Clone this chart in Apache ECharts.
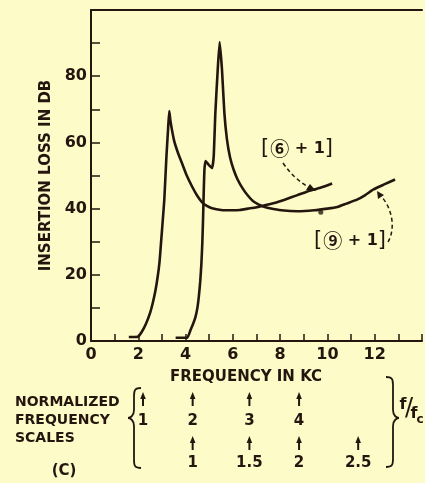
<!DOCTYPE html>
<html>
<head>
<meta charset="utf-8">
<script src="https://cdn.jsdelivr.net/npm/echarts@6/dist/echarts.min.js"></script>
<style>
html,body{margin:0;padding:0;background:#fdfbc8;}
#c{width:425px;height:483px;}
</style>
</head>
<body>
<div id="c"></div>
<script>
// ---- data ----
const curve6plus1 = [[1.6,1.2],[1.98,1.3],[2.15,2.8],[2.33,5.3],[2.5,8.5],[2.61,11.4],[2.72,15],[2.82,19.4],[2.9,24],[2.96,29.5],[3.03,36],[3.10,42.6],[3.19,55.7],[3.26,64],[3.31,69.5],[3.36,66.5],[3.51,60.7],[3.68,56.8],[3.86,53.5],[4.05,50],[4.28,46.6],[4.5,43.8],[4.70,41.9],[4.9,40.8],[5.12,40.1],[5.5,39.6],[5.95,39.5],[6.3,39.6],[6.65,40.0],[7.0,40.4],[7.35,41.0],[7.8,41.8],[8.19,42.7],[8.7,44],[9.16,45.2],[9.7,46.3],[10.2,47.6]];
const curve9plus1 = [[3.58,1.0],[4.07,1.0],[4.21,3.3],[4.32,5.2],[4.42,7.3],[4.5,10],[4.56,13.4],[4.62,18],[4.67,23.5],[4.71,30],[4.74,37],[4.77,45.6],[4.8,52],[4.85,54.4],[4.98,53.2],[5.12,52.3],[5.19,55.8],[5.26,69],[5.36,82],[5.44,90.3],[5.54,82],[5.64,69],[5.75,60.9],[5.88,55.5],[6.03,51.8],[6.2,48.8],[6.44,45.8],[6.65,43.8],[6.86,42.2],[7.1,41.2],[7.35,40.5],[7.56,40.1],[8.05,39.5],[8.74,39.2],[9.44,39.5],[10.0,40],[10.42,40.5],[10.8,41.5],[11.25,42.7],[11.6,44.1],[11.95,45.8],[12.4,47.3],[12.86,48.8]];
const strayDot = [[9.72,38.9]];
const xTickLabels = [0,2,4,6,8,10,12];
const yTickLabels = [0,20,40,60,80];
const row1Pos = [2.2,4.3,6.7,8.8];
const row1Labels = ['1','2','3','4'];
const row2Pos = [4.3,6.7,8.8,11.3];
const row2Labels = ['1','1.5','2','2.5'];

const INK = '#24160f';
const FONT = 'DejaVu Sans';
const CJK = 'Noto Sans CJK SC';

const chart = echarts.init(document.getElementById('c'), null, {renderer:'canvas'});
const option = {
  animation:false,
  backgroundColor:'#fdfbc8',
  textStyle:{fontFamily:FONT,color:INK},
  grid:{left:91,right:0,top:10,bottom:142},
  xAxis:[{
    type:'value',min:0,max:14,interval:1,
    axisLine:{lineStyle:{color:INK,width:2}},
    axisTick:{inside:true,length:7,lineStyle:{color:INK,width:1.5}},
    axisLabel:{fontSize:16,fontWeight:'bold',color:INK,margin:6,fontFamily:FONT,
      formatter:v=> xTickLabels.indexOf(v)>=0 ? String(v) : ''},
    splitLine:{show:false}
  },{
    type:'value',min:0,max:14,position:'top',
    axisLine:{show:true,lineStyle:{color:INK,width:2}},
    axisTick:{show:false},axisLabel:{show:false},splitLine:{show:false}
  }],
  yAxis:{
    type:'value',min:0,max:100,interval:10,
    name:'INSERTION LOSS IN DB',nameLocation:'middle',nameGap:37,
    nameTextStyle:{fontSize:15,fontWeight:'bold',color:INK,fontFamily:FONT},
    axisLine:{show:true,lineStyle:{color:INK,width:2}},
    axisTick:{show:true,inside:true,length:9,lineStyle:{color:INK,width:1.5}},
    axisLabel:{fontSize:16,fontWeight:'bold',color:INK,margin:4,fontFamily:FONT,
      formatter:v=> yTickLabels.indexOf(v)>=0 ? String(v) : ''},
    splitLine:{show:false}
  },
  series:[
    {type:'line',data:curve6plus1,showSymbol:false,smooth:0.15,lineStyle:{color:INK,width:2.6}},
    {type:'line',data:curve9plus1,showSymbol:false,smooth:0.15,lineStyle:{color:INK,width:2.6}},
    {type:'scatter',data:strayDot,symbolSize:5,itemStyle:{color:INK}}
  ]
};
chart.setOption(option);

function px(x,y){return chart.convertToPixel({xAxisIndex:0,yAxisIndex:0},[x,y]);}
const g = [];
function txt(x,y,t,size,align,font){
  g.push({type:'text',x:x,y:y,style:{text:t,fontSize:size,fontWeight:'bold',fontFamily:font||FONT,fill:INK,align:align||'center',verticalAlign:'middle'}});
}
function arrowUp(x,yTop,yBot){
  g.push({type:'line',shape:{x1:x,y1:yBot,x2:x,y2:yTop+4},style:{stroke:INK,lineWidth:2}});
  g.push({type:'polygon',shape:{points:[[x,yTop],[x-2.8,yTop+7],[x+2.8,yTop+7]]},style:{fill:INK}});
}
function brace(xEnd,xBody,xTip,yTop,yMid,yBot){
  const s={stroke:INK,lineWidth:1.8,fill:null};
  const d = xEnd>xBody?1:-1;
  g.push({type:'bezierCurve',shape:{x1:xEnd,y1:yTop,cpx1:xBody+d*1,cpy1:yTop,cpx2:xBody,cpy2:yTop+2,x2:xBody,y2:yTop+8},style:s});
  g.push({type:'line',shape:{x1:xBody,y1:yTop+8,x2:xBody,y2:yMid-8},style:s});
  g.push({type:'bezierCurve',shape:{x1:xBody,y1:yMid-8,cpx1:xBody,cpy1:yMid-2,cpx2:xTip+d*2,cpy2:yMid,x2:xTip,y2:yMid},style:s});
  g.push({type:'bezierCurve',shape:{x1:xTip,y1:yMid,cpx1:xTip+d*2,cpy1:yMid,cpx2:xBody,cpy2:yMid+2,x2:xBody,y2:yMid+8},style:s});
  g.push({type:'line',shape:{x1:xBody,y1:yMid+8,x2:xBody,y2:yBot-8},style:s});
  g.push({type:'bezierCurve',shape:{x1:xBody,y1:yBot-8,cpx1:xBody,cpy1:yBot-2,cpx2:xBody+d*1,cpy2:yBot,x2:xEnd,y2:yBot},style:s});
}
function curveLabel(x,y,circled){
  g.push({type:'text',x:x,y:y,style:{
    text:'{br|[}{c|'+circled+'}{p| + 1}{br|]}',align:'center',verticalAlign:'middle',fill:INK,
    rich:{
      br:{fontSize:21,fontFamily:FONT,fill:INK},
      c:{fontSize:19,fontWeight:'bold',fontFamily:CJK,fill:INK,padding:[0,0,0,1]},
      p:{fontSize:16,fontWeight:'bold',fontFamily:FONT,fill:INK}
    }}});
}
// x axis title
txt(246,377,'FREQUENCY IN KC',15);
// normalized scale block
txt(15,402,'NORMALIZED',14,'left');
txt(15,420,'FREQUENCY',14,'left');
txt(15,438,'SCALES',14,'left');
txt(64,471,'(C)',15);
row1Pos.forEach((k,i)=>{
  const x = px(k,0)[0];
  arrowUp(x,392,406);
  txt(x,421,row1Labels[i],15);
});
row2Pos.forEach((k,i)=>{
  const x = px(k,0)[0];
  arrowUp(x,436,450);
  txt(x,463,row2Labels[i],15);
});
// braces
brace(141,134,128,388,418,468);
brace(386,393,399,377,418,467);
txt(403,405,'f',16);
g.push({type:'text',x:409,y:409,style:{text:'/',fontSize:24,fontFamily:FONT,fill:INK,align:'center',verticalAlign:'middle'}});
txt(414,414,'f',16);
txt(420,420,'c',12);
// curve labels
curveLabel(297,149,'⑥');
curveLabel(350,241,'⑨');
// dashed leader arrows
g.push({type:'bezierCurve',shape:{x1:283,y1:163,cpx1:292,cpy1:176,cpx2:300,cpy2:182,x2:310,y2:188},style:{stroke:INK,lineWidth:1.5,lineDash:[4,3],fill:null}});
g.push({type:'polygon',shape:{points:[[316,191],[306,190],[310,184]]},style:{fill:INK}});
g.push({type:'bezierCurve',shape:{x1:388,y1:242,cpx1:396,cpy1:228,cpx2:392,cpy2:208,x2:381,y2:196},style:{stroke:INK,lineWidth:1.5,lineDash:[4,3],fill:null}});
g.push({type:'polygon',shape:{points:[[377,191],[378,199],[384,195]]},style:{fill:INK}});
chart.setOption({graphic:g});
</script>
</body>
</html>
